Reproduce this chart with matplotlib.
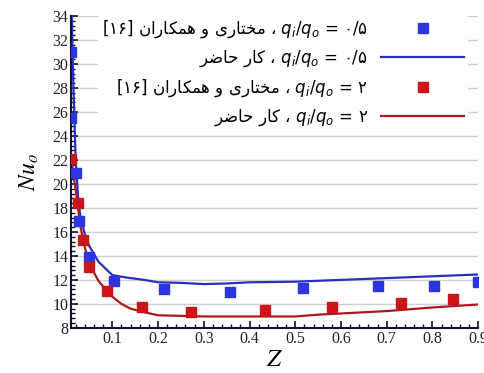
import numpy as np
import matplotlib
matplotlib.use("Agg")
import matplotlib.pyplot as plt
from matplotlib.ticker import MultipleLocator, AutoMinorLocator

# presentation forms: isolated, final, initial, medial
FORMS = {
    'ا': ('\ufe8d', '\ufe8e', None, None),
    'ت': ('\ufe95', '\ufe96', '\ufe97', '\ufe98'),
    'ح': ('\ufea1', '\ufea2', '\ufea3', '\ufea4'),
    'خ': ('\ufea5', '\ufea6', '\ufea7', '\ufea8'),
    'ر': ('\ufead', '\ufeae', None, None),
    'ض': ('\ufebd', '\ufebe', '\ufebf', '\ufec0'),
    'ک': ('\ufed9', '\ufeda', '\ufedb', '\ufedc'),
    'م': ('\ufee1', '\ufee2', '\ufee3', '\ufee4'),
    'ن': ('\ufee5', '\ufee6', '\ufee7', '\ufee8'),
    'ه': ('\ufee9', '\ufeea', '\ufeeb', '\ufeec'),
    'و': ('\ufeed', '\ufeee', None, None),
    'ی': ('\ufeef', '\ufef0', '\ufef3', '\ufef4'),
}
RIGHT_ONLY = set('اورزدذژ')


def shape_word(w):
    out = []
    for i, c in enumerate(w):
        prv = w[i - 1] if i > 0 else None
        nxt = w[i + 1] if i + 1 < len(w) else None
        jp = prv in FORMS and prv not in RIGHT_ONLY
        jn = nxt in FORMS and c not in RIGHT_ONLY
        iso, fin, ini, med = FORMS[c]
        if jp and jn:
            g = med
        elif jp:
            g = fin
        elif jn:
            g = ini
        else:
            g = iso
        out.append(g)
    return ''.join(reversed(out))


def rtl(phrase):
    return ' '.join(shape_word(w) for w in reversed(phrase.split()))


# data
z_ref_05 = [0.010, 0.010, 0.021, 0.028, 0.050, 0.103, 0.213, 0.358, 0.518, 0.681, 0.803, 0.900]
nu_ref_05 = [31.0, 25.5, 20.9, 16.9, 13.9, 11.9, 11.2, 11.0, 11.3, 11.45, 11.5, 11.8]
z_ref_2 = [0.010, 0.026, 0.035, 0.050, 0.088, 0.164, 0.273, 0.433, 0.580, 0.732, 0.846]
nu_ref_2 = [22.05, 18.4, 15.3, 13.1, 11.1, 9.7, 9.36, 9.45, 9.7, 10.1, 10.4]

z_now_05 = [0.011, 0.015, 0.020, 0.025, 0.030, 0.040, 0.050, 0.070, 0.100, 0.130, 0.170,
            0.200, 0.250, 0.300, 0.350, 0.400, 0.500, 0.600, 0.700, 0.800, 0.900]
nu_now_05 = [34.5, 28.0, 22.0, 19.0, 17.3, 15.8, 14.8, 13.5, 12.4, 12.2, 12.0,
             11.8, 11.75, 11.65, 11.7, 11.8, 11.85, 12.0, 12.15, 12.3, 12.45]
z_now_2 = [0.010, 0.020, 0.030, 0.040, 0.050, 0.070, 0.090, 0.100, 0.120, 0.140, 0.170,
           0.200, 0.300, 0.400, 0.500, 0.550, 0.600, 0.700, 0.750, 0.800, 0.900]
nu_now_2 = [22.0, 19.5, 16.5, 14.7, 13.3, 11.9, 11.0, 10.6, 10.0, 9.6, 9.3,
            9.05, 8.95, 8.95, 8.95, 9.1, 9.2, 9.4, 9.55, 9.7, 9.95]

ref_txt = rtl('مختاری و همکاران')
now_txt = rtl('کار حاضر')
labels = [
    '[۱۶] ' + ref_txt + ' ، $q_i/q_o$ = ۰/۵',
    now_txt + ' ، $q_i/q_o$ = ۰/۵',
    '[۱۶] ' + ref_txt + ' ، $q_i/q_o$ = ۲',
    now_txt + ' ، $q_i/q_o$ = ۲',
]

fig = plt.figure(figsize=(4.84, 3.73), dpi=100)
ax = fig.add_axes([0.147, 0.121, 0.841, 0.836])

ax.plot(z_ref_05, nu_ref_05, 's', color='#2b35e0', ms=6.5, ls='none', label=labels[0], zorder=3)
ax.plot(z_now_05, nu_now_05, '-', color='#2b2fc0', lw=1.6, label=labels[1], zorder=2)
ax.plot(z_ref_2, nu_ref_2, 's', color='#cc1518', ms=6.5, ls='none', label=labels[2], zorder=3)
ax.plot(z_now_2, nu_now_2, '-', color='#a81a1e', lw=1.6, label=labels[3], zorder=2)

ax.set_xlim(0.01, 0.9)
ax.set_ylim(8, 34)
ax.yaxis.set_major_locator(MultipleLocator(2))
ax.yaxis.set_minor_locator(AutoMinorLocator(5))
ax.set_xticks(np.arange(0.1, 0.95, 0.1))
ax.set_xticklabels(['0.1', '0.2', '0.3', '0.4', '0.5', '0.6', '0.7', '0.8', '0.9'])
ax.xaxis.set_minor_locator(MultipleLocator(0.02))

ax.tick_params(which='both', direction='in', colors='#111133', labelcolor='#222222')
ax.tick_params(which='major', length=5, width=1.2, labelsize=11.5, pad=2)
ax.tick_params(which='minor', length=3, width=1.0)
for lab in ax.get_xticklabels() + ax.get_yticklabels():
    lab.set_fontfamily('Liberation Serif')

for s in ('top', 'right'):
    ax.spines[s].set_visible(False)
for s in ('left', 'bottom'):
    ax.spines[s].set_color('#111133')
    ax.spines[s].set_linewidth(1.5)

ax.yaxis.grid(True, which='major', color='#d0d0d0', lw=1.0)
ax.set_axisbelow(True)

ax.set_xlabel('$Z$', fontsize=18, math_fontfamily='stix', labelpad=0)
ax.set_ylabel('$Nu_o$', fontsize=17, math_fontfamily='stix', labelpad=8)

leg = ax.legend(loc='upper right', bbox_to_anchor=(0.995, 1.03), markerfirst=False,
                numpoints=1, handlelength=5.0, frameon=True, framealpha=1.0,
                edgecolor='none', fontsize=12, labelspacing=0.5, handletextpad=0.8,
                borderpad=0.2)
for t in leg.get_texts():
    t.set_fontfamily('DejaVu Sans')

fig.savefig('out.png', dpi=100)
